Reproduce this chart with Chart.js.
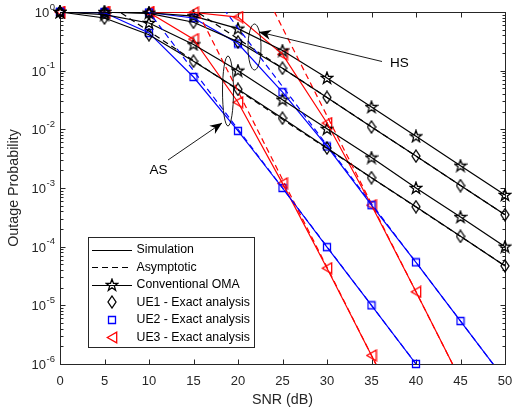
<!DOCTYPE html>
<html><head><meta charset="utf-8">
<script src="https://cdn.jsdelivr.net/npm/chart.js@4"></script>
<style>html,body{margin:0;padding:0;background:#fff}</style>
</head><body>
<canvas id="c" width="514" height="411"></canvas>
<script>
// ---- data ----
const snr = [0,5,10,15,20,25,30,35,40,45,50];
const omaHS = [1,1,0.97,0.85,0.52,0.22,0.075,0.024,0.0076,0.0024,7.6e-4];
const ue1HS = [1,0.99,0.95,0.67,0.31,0.11,0.035,0.011,0.0035,0.0011,3.5e-4];
const omaAS = [1,0.9,0.65,0.28,0.1,0.032,0.0102,0.0033,0.001,3.2e-4,1.0e-4];
const ue1AS = [1,0.79,0.41,0.145,0.048,0.0155,0.0048,0.0015,4.8e-4,1.5e-4,4.7e-5];
const ue2AS = [1,0.97,0.44,0.078,0.0094,0.001,9.8e-5,1e-5,1e-6,1e-7,1e-8];
const ue2HS = [1,1,0.98,0.79,0.29,0.043,0.0051,5.1e-4,5.4e-5,5.4e-6,5.4e-7];
const ue3AS = [1,1,0.98,0.345,0.029,0.0012,4.3e-5,1.4e-6,4.5e-8,1.4e-9,4.5e-11];
const ue3HS = [1,1,1,0.98,0.82,0.19,0.0128,5.1e-4,1.7e-5,5.4e-7,1.7e-8];
// asymptotic (dashed)
const ue1ASasy = [null,1.48,0.468,0.148,0.0468,0.0148,4.7e-3,1.49e-3,4.75e-4,1.5e-4,4.7e-5];
const ue1HSasy = [null,null,3.5,1.1,0.35,0.11,0.035,0.011,3.5e-3,1.1e-3,3.5e-4];
const ue2ASasy = [null,10,1,0.1,0.01,1e-3,1e-4,1e-5,1e-6,1e-7,null];
const ue2HSasy = [null,null,null,5.37,0.537,0.0537,5.37e-3,5.37e-4,5.4e-5,5.4e-6,5.4e-7];
const ue3ASasy = [null,null,44.6,1.4,0.0446,1.4e-3,4.46e-5,1.4e-6,4.46e-8,null,null];
const ue3HSasy = [null,null,null,null,17,0.537,0.017,5.37e-4,1.7e-5,5.37e-7,1.7e-8];
// ticks
const xTicks = [0,5,10,15,20,25,30,35,40,45,50];
const yExps = [0,-1,-2,-3,-4,-5,-6];
const legendLabels = ['Simulation','Asymptotic','Conventional OMA','UE1 - Exact analysis','UE2 - Exact analysis','UE3 - Exact analysis'];

const BLACK='#000000', BLUE='#0000ff', RED='#ff0000';
const FONT='"Liberation Sans", Arial, Helvetica, sans-serif';

function marker(shape, color){
  const c=document.createElement('canvas');
  let w=10,h=10;
  if(shape==='diamond'){w=10;h=14;}
  if(shape==='tri'){w=12;h=13;}
  if(shape==='star'){w=14;h=14;}
  c.width=w;c.height=h;
  const g=c.getContext('2d');
  g.strokeStyle=color;g.lineWidth=1.3;g.lineJoin='miter';g.beginPath();
  if(shape==='diamond'){g.moveTo(5,1);g.lineTo(9,7);g.lineTo(5,13);g.lineTo(1,7);g.closePath();}
  else if(shape==='square'){g.rect(1.5,1.5,7,7);}
  else if(shape==='tri'){g.moveTo(1.3,6.5);g.lineTo(10.7,1.2);g.lineTo(10.7,11.8);g.closePath();}
  else if(shape==='star'){
    const cx=7,cy=7.3,R=6.2,r=2.5;
    for(let i=0;i<10;i++){const rr=i%2?r:R;const a=-Math.PI/2+i*Math.PI/5;const px=cx+rr*Math.cos(a),py=cy+rr*Math.sin(a);i?g.lineTo(px,py):g.moveTo(px,py);}
    g.closePath();
  }
  g.stroke();
  return c;
}
const mStar=marker('star',BLACK), mDia=marker('diamond',BLACK), mSq=marker('square',BLUE), mTri=marker('tri',RED);

function pts(arr){return snr.map((x,i)=>({x:x,y:arr[i]}));}
function mpts(arr){return snr.map((x,i)=>({x:x,y:(arr[i]!==null && arr[i]>=1e-6)?arr[i]:null}));}
const datasets=[];
function addLine(arr,color,dash){datasets.push({data:pts(arr),borderColor:color,borderWidth:1.2,borderDash:dash||[],pointRadius:0,fill:false,tension:0,spanGaps:false});}
function addMarks(arr,img){datasets.push({data:mpts(arr),showLine:false,pointStyle:img,pointRadius:5,borderColor:'rgba(0,0,0,0)',backgroundColor:'rgba(0,0,0,0)',clip:false});}

[[ue1ASasy,BLACK],[ue1HSasy,BLACK],[ue2ASasy,BLUE],[ue2HSasy,BLUE],[ue3ASasy,RED],[ue3HSasy,RED]].forEach(p=>addLine(p[0],p[1],[6,4]));
addLine(omaHS,BLACK);addLine(omaAS,BLACK);addLine(ue1HS,BLACK);addLine(ue1AS,BLACK);
addLine(ue2AS,BLUE);addLine(ue2HS,BLUE);addLine(ue3AS,RED);addLine(ue3HS,RED);
addMarks(omaHS,mStar);addMarks(omaAS,mStar);addMarks(ue1HS,mDia);addMarks(ue1AS,mDia);
addMarks(ue2AS,mSq);addMarks(ue2HS,mSq);addMarks(ue3AS,mTri);addMarks(ue3HS,mTri);

const axes={
  id:'axes',
  beforeDatasetsDraw(chart){
    const ctx=chart.ctx,a=chart.chartArea,xs=chart.scales.x,ys=chart.scales.y;
    ctx.save();
    ctx.strokeStyle='#262626';ctx.lineWidth=1;
    const L=Math.round(a.left)+0.5,R=Math.round(a.right)+0.5,T=Math.round(a.top)+0.5,B=Math.round(a.bottom)+0.5;
    ctx.strokeRect(L,T,R-L,B-T);
    ctx.beginPath();
    xTicks.forEach(v=>{const px=Math.round(xs.getPixelForValue(v))+0.5;ctx.moveTo(px,B);ctx.lineTo(px,B-5);ctx.moveTo(px,T);ctx.lineTo(px,T+5);});
    yExps.forEach(e=>{
      const py=Math.round(ys.getPixelForValue(Math.pow(10,e)))+0.5;
      ctx.moveTo(L,py);ctx.lineTo(L+5,py);ctx.moveTo(R,py);ctx.lineTo(R-5,py);
      if(e>-6){for(let k=2;k<=9;k++){const q=Math.round(ys.getPixelForValue(k*Math.pow(10,e-1)))+0.5;ctx.moveTo(L,q);ctx.lineTo(L+3,q);ctx.moveTo(R,q);ctx.lineTo(R-3,q);}}
    });
    ctx.stroke();
    // tick labels
    ctx.fillStyle='#262626';
    ctx.font='13px '+FONT;ctx.textAlign='center';ctx.textBaseline='middle';
    xTicks.forEach(v=>ctx.fillText(String(v),xs.getPixelForValue(v),381));
    yExps.forEach(e=>{
      const py=ys.getPixelForValue(Math.pow(10,e));
      const sup=String(e);
      ctx.font='9.5px '+FONT;const sw=ctx.measureText(sup).width;
      ctx.textAlign='right';ctx.textBaseline='middle';
      ctx.fillText(sup,55,py-5);
      ctx.font='13px '+FONT;
      ctx.fillText('10',55-sw-0.5,py+1.5);
    });
    // axis titles
    ctx.font='14.3px '+FONT;ctx.textAlign='center';ctx.textBaseline='middle';
    ctx.fillText('SNR (dB)',(a.left+a.right)/2,400);
    ctx.save();ctx.translate(14,(a.top+a.bottom)/2);ctx.rotate(-Math.PI/2);ctx.fillText('Outage Probability',0,0);ctx.restore();
    ctx.restore();
  },
  afterDatasetsDraw(chart){
    const ctx=chart.ctx;
    ctx.save();
    // annotations
    ctx.strokeStyle='#000';ctx.lineWidth=0.9;
    ctx.beginPath();ctx.ellipse(228,91,5.5,35,0,0,Math.PI*2);ctx.stroke();
    ctx.beginPath();ctx.ellipse(254.5,47,6.5,23,0,0,Math.PI*2);ctx.stroke();
    function arrow(x1,y1,x2,y2){
      ctx.beginPath();ctx.moveTo(x1,y1);ctx.lineTo(x2,y2);ctx.stroke();
      const ang=Math.atan2(y2-y1,x2-x1),len=12,wd=5;
      ctx.beginPath();ctx.moveTo(x2,y2);
      ctx.lineTo(x2-len*Math.cos(ang)+wd*Math.sin(ang),y2-len*Math.sin(ang)-wd*Math.cos(ang));
      ctx.lineTo(x2-len*0.7*Math.cos(ang),y2-len*0.7*Math.sin(ang));
      ctx.lineTo(x2-len*Math.cos(ang)-wd*Math.sin(ang),y2-len*Math.sin(ang)+wd*Math.cos(ang));
      ctx.closePath();ctx.fillStyle='#000';ctx.fill();
    }
    arrow(168,160,222,123);
    arrow(382,61.5,259,32);
    ctx.fillStyle='#000';ctx.font='13.5px '+FONT;ctx.textAlign='center';ctx.textBaseline='middle';
    ctx.fillText('AS',158.5,170);
    ctx.fillText('HS',399.5,63.5);
    // legend
    ctx.fillStyle='#fff';ctx.fillRect(88.5,237.5,166,110);
    ctx.strokeStyle='#262626';ctx.lineWidth=1;ctx.strokeRect(88.5,237.5,166,110);
    const rows=[249.5,267,284.5,302.3,319.5,337];
    ctx.font='12.3px '+FONT;ctx.textAlign='left';ctx.textBaseline='middle';
    rows.forEach((y,i)=>{
      const yy=Math.round(y)+0.5;
      ctx.strokeStyle='#000';ctx.lineWidth=1.2;
      if(i<3){ctx.setLineDash(i===1?[6,4]:[]);ctx.beginPath();ctx.moveTo(92,yy);ctx.lineTo(132,yy);ctx.stroke();ctx.setLineDash([]);}
      const img=[null,null,mStar,mDia,mSq,mTri][i];
      if(img)ctx.drawImage(img,Math.round(112-img.width/2),Math.round(y-img.height/2));
      ctx.fillStyle='#000';ctx.fillText(legendLabels[i],136.5,y+0.5);
    });
    ctx.restore();
  }
};

new Chart(document.getElementById('c'),{
  type:'line',
  data:{datasets:datasets},
  options:{
    responsive:false,animation:false,
    layout:{padding:{left:60,top:12,right:9,bottom:47}},
    plugins:{legend:{display:false},tooltip:{enabled:false}},
    scales:{
      x:{type:'linear',min:0,max:50,display:false},
      y:{type:'logarithmic',min:1e-6,max:1,display:false}
    }
  },
  plugins:[axes]
});
</script>
</body></html>
